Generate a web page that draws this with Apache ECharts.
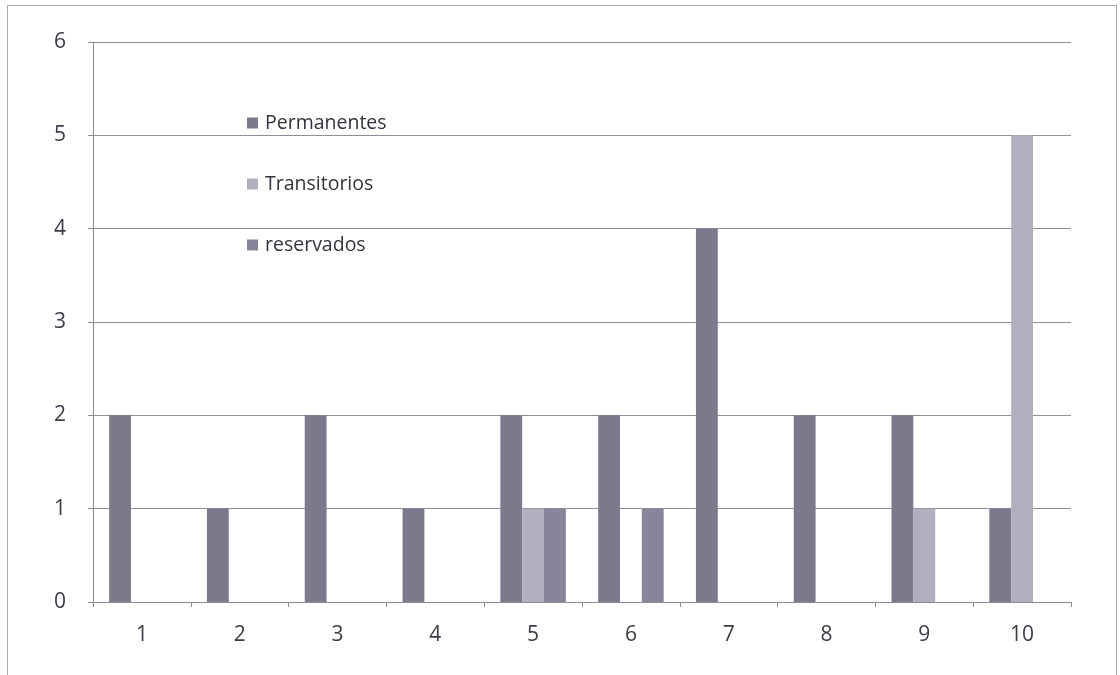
<!DOCTYPE html>
<html><head><meta charset="utf-8">
<script src="https://cdn.jsdelivr.net/npm/echarts@6/dist/echarts.min.js"></script>
<style>
html,body{margin:0;padding:0;background:#fff;}
#frame{position:absolute;left:7px;top:5px;width:1110px;height:672px;border-left:1px solid #aaaab4;border-top:1px solid #aaaab4;border-right:1px solid #aaaab4;box-sizing:border-box;}
#c{position:absolute;left:0;top:0;width:1120px;height:675px;}
</style></head>
<body><div id="frame"></div><div id="c"></div>
<script>
const categories = ['1','2','3','4','5','6','7','8','9','10'];
const permanentes = [2,1,2,1,2,2,4,2,2,1];
const transitorios = [0,0,0,0,1,0,0,0,1,5];
const reservados = [0,0,0,0,1,1,0,0,0,0];
const seriesNames = ['Permanentes','Transitorios','reservados'];
const colors = ['#7b7a8d','#b0afbe','#86859a'];

const chart = echarts.init(document.getElementById('c'));
const mk = (name, data, i) => ({
  name, type:'bar', data, barGap:'0%', barCategoryGap:'33%',
  itemStyle:{color:colors[i]}
});
const font = '"Open Sans", "Noto Sans", sans-serif';
chart.setOption({
  animation:false,
  color:colors,
  grid:{left:93,right:49,top:42,bottom:73},
  legend:{
    orient:'vertical', left:242, top:108, itemGap:41,
    itemWidth:11, itemHeight:11, icon:'rect', itemStyle:{borderWidth:0},
    textStyle:{fontFamily:font, fontSize:19.5, color:'#33333f', padding:[0,0,0,2]},
    data:seriesNames
  },
  xAxis:{
    type:'category', data:categories,
    axisLine:{lineStyle:{color:'#8a8a98'}},
    axisTick:{show:true, length:5, lineStyle:{color:'#8a8a98'}},
    axisLabel:{fontFamily:font, fontSize:21, color:'#3c3c48', margin:23}
  },
  yAxis:{
    type:'value', min:0, max:6, interval:1,
    axisLine:{show:true, lineStyle:{color:'#8a8a98'}},
    axisTick:{show:true, length:5, lineStyle:{color:'#8a8a98'}},
    splitLine:{lineStyle:{color:'#8e8e9c'}},
    axisLabel:{fontFamily:font, fontSize:21, color:'#3c3c48', margin:27}
  },
  series:[mk(seriesNames[0],permanentes,0), mk(seriesNames[1],transitorios,1), mk(seriesNames[2],reservados,2)]
});
</script></body></html>
